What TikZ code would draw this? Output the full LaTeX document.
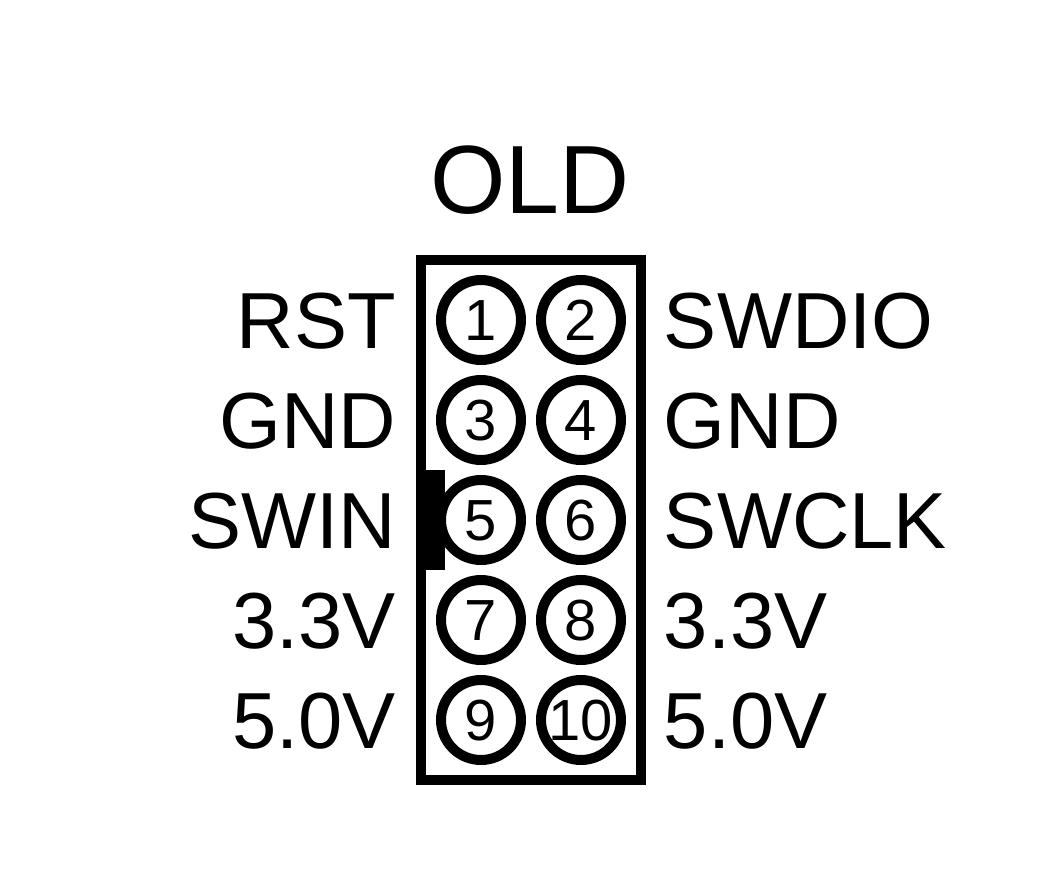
\documentclass[tikz,border=0pt]{standalone}
\usepackage{fontspec}
\setmainfont{Liberation Sans}
\usetikzlibrary{calc,fit}
\newcommand\sigfont{\fontsize{79.5}{88}\selectfont}
\newcommand\titlefont{\fontsize{97}{106}\selectfont}
\newcommand\numfont{\fontsize{58}{64}\selectfont}
\tikzset{
    ampersand replacement=\&,
    contact/.style={circle, draw, line width=10pt, minimum size=80pt,
        inner sep=0pt, font=\numfont, text height=41.5pt, text depth=0pt},
    sig/.style={inner sep=0pt, font=\sigfont, text height=56.9pt, text depth=0pt},
    sig west/.style={sig, anchor=east},
    sig east/.style={sig, anchor=west},
}
\begin{document}
\begin{tikzpicture}
            \matrix[row sep=10pt, column sep=10pt]{
                \node[sig west] (rst) {RST}; \&[30pt]
                \node[contact] (p1) {1}; \&
                \node[contact] (p2) {2}; \&[28pt]
                \node[sig east] (swdio) {SWDIO}; \\
                \node[sig west] (gndl) {GND}; \&
                \node[contact] (p3) {3}; \&
                \node[contact] (p4) {4}; \&
                \node[sig east] (gndr) {GND}; \\
                \node[sig west] (swin) {SWIN}; \&
                \node[contact] (p5) {5}; \&
                \node[contact] (p6) {6}; \&
                \node[sig east] (swclk) {SWCLK}; \\
                \node[sig west] (vthreel) {3.3V}; \&
                \node[contact] (p7) {7}; \&
                \node[contact] (p8) {8}; \&
                \node[sig east] (vthreer) {3.3V}; \\
                \node[sig west] (vfivel) {5.0V}; \&
                \node[contact] (p9) {9}; \&
                \node[contact] (p10) {10}; \&
                \node[sig east] (vfiver) {5.0V}; \\
            } ;

            \node[draw, line width=10pt, inner sep=15pt, fit=(p1)(p10)] (header) {};
            \fill ($(header.west |- p5)+(0,50pt)$) rectangle ($(p5.west)+(9pt,-50pt)$);
            \node[inner sep=0pt, font=\titlefont, anchor=base] (title) at ($(header.north)+(-1pt,41pt)$) {OLD};

            \useasboundingbox ($(p1)+(-481pt,320pt)$) rectangle ($(p1)+(581pt,-566pt)$);
        \end{tikzpicture}
\end{document}
